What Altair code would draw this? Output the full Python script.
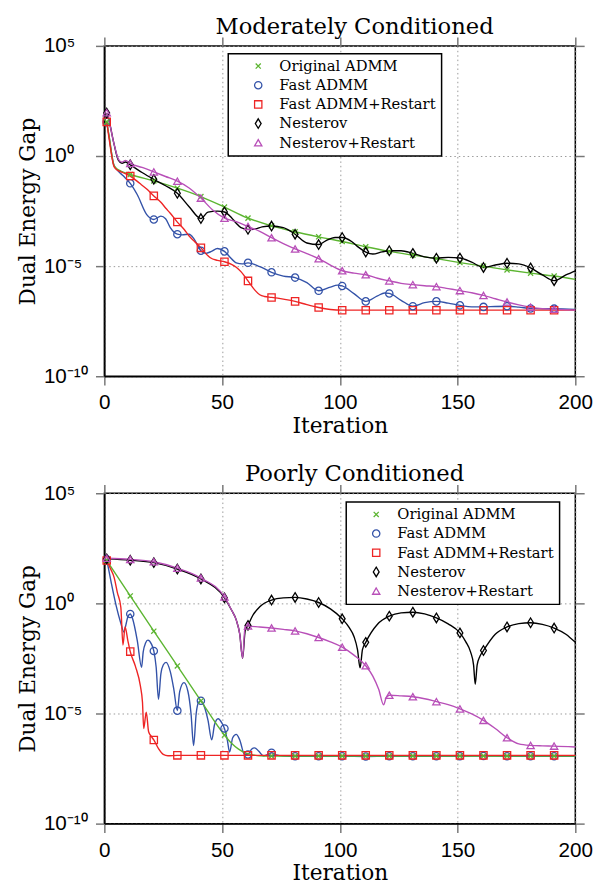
import altair as alt
import pandas as pd

SERIES = ["Original ADMM", "Fast ADMM", "Fast ADMM+Restart", "Nesterov", "Nesterov+Restart"]
COLORS = ["#5cb531", "#3352a8", "#ee2424", "#000000", "#b84fb8"]
SHAPES = ["M-0.7,-0.7L0.7,0.7M-0.7,0.7L0.7,-0.7", "circle", "square",
          "M0,-1.3L0.8,0L0,1.3L-0.8,0Z", "triangle-up"]
DRAW_ORDER = [1, 0, 2, 3, 4]
MARKER_ITERS = list(range(1, 192, 10))
X_TICKS = [0, 50, 100, 150, 200]
Y_TICKS = [1e-10, 1e-5, 1.0, 1e5]

# ---------- Moderately Conditioned (log10 of dual energy gap) ----------
TOP_GREEN_X = [1, 2, 4, 5, 7, 11, 21, 31, 41, 51, 61, 71, 81, 91, 101, 111, 121, 131, 141, 151, 161, 171, 181, 191, 200]
TOP_GREEN_Y = [1.55, 0.9, -0.4, -0.55, -0.68, -0.84, -1.13, -1.46, -1.84, -2.32, -2.82, -3.17, -3.44, -3.67, -3.88,
               -4.12, -4.33, -4.50, -4.66, -4.84, -5.00, -5.17, -5.32, -5.45, -5.60]

TOP_BLUE_X = [1, 2, 4, 5.5, 8, 11, 14, 18, 21, 24, 26, 28, 31, 33, 36, 38, 41, 43, 45.5, 48, 51, 53, 56, 58.5, 61, 66,
              71, 76, 81, 86, 91, 96, 99, 101, 106, 111, 116, 119, 121, 126, 131, 136, 141, 146, 151, 156, 161, 166,
              171, 176, 181, 186, 191, 200]
TOP_BLUE_Y = [1.55, 0.9, -0.4, -0.64, -0.9, -1.24, -1.76, -2.66, -2.88, -2.73, -2.85, -3.25, -3.55, -3.58, -3.55,
              -3.75, -4.30, -4.42, -4.33, -4.20, -4.33, -4.55, -4.85, -4.90, -4.85, -5.02, -5.28, -5.45, -5.52,
              -5.75, -6.12, -5.95, -5.86, -5.90, -6.25, -6.60, -6.35, -6.22, -6.24, -6.55, -6.82, -6.66, -6.60,
              -6.68, -6.78, -6.85, -6.85, -6.83, -6.82, -6.86, -6.92, -6.94, -6.93, -6.97]

TOP_RED_X = [1, 2, 4, 5, 8, 11, 15, 18, 21, 24, 26, 28, 31, 34, 36, 38, 41, 43, 45, 48, 51, 54, 56, 58, 61, 64, 66,
             68, 71, 76, 81, 86, 91, 96, 101, 111, 121, 131, 141, 151, 161, 171, 181, 191, 200]
TOP_RED_Y = [1.55, 0.8, -0.45, -0.6, -0.76, -0.91, -1.24, -1.5, -1.81, -2.1, -2.36, -2.6, -3.0, -3.35, -3.63, -3.85,
             -4.17, -4.42, -4.62, -4.74, -4.80, -4.92, -5.05, -5.25, -5.67, -6.1, -6.3, -6.38, -6.42, -6.50, -6.60,
             -6.75, -6.88, -6.97, -7.0, -7.0, -7.0, -7.0, -7.0, -7.0, -7.0, -7.0, -7.0, -7.0, -7.0]

TOP_BLACK_X = [1, 2, 4, 6, 7.5, 9, 11, 16, 21, 26, 31, 36, 41, 44, 48, 51, 54, 56, 58, 61, 64, 67, 71, 76, 81, 86, 91,
               94, 98, 101, 105, 108, 111, 114, 118, 121, 126, 131, 136, 141, 146, 151, 156, 161, 166, 171, 176,
               181, 186, 191, 196, 200]
TOP_BLACK_Y = [1.95, 1.6, 0.6, -0.2, -0.33, -0.27, -0.40, -0.75, -1.06, -1.35, -1.69, -2.3, -2.84, -2.55, -2.50,
               -2.54, -2.8, -3.05, -3.25, -3.33, -3.32, -3.22, -3.18, -3.25, -3.55, -3.95, -4.02, -3.85, -3.70,
               -3.70, -3.88, -4.15, -4.36, -4.45, -4.35, -4.30, -4.30, -4.42, -4.58, -4.64, -4.60, -4.63, -4.82,
               -5.06, -4.95, -4.87, -4.90, -5.08, -5.40, -5.66, -5.40, -5.21]

TOP_MAGENTA_X = [1, 2, 4, 6, 7.5, 9, 11, 16, 21, 26, 31, 36, 41, 46, 51, 56, 61, 66, 71, 76, 81, 86, 91, 96, 101, 106,
                 111, 116, 121, 126, 131, 136, 141, 146, 151, 156, 161, 166, 171, 176, 181, 186, 191, 200]
TOP_MAGENTA_Y = [1.97, 1.6, 0.6, -0.15, -0.28, -0.2, -0.34, -0.52, -0.72, -0.93, -1.14, -1.45, -1.91, -2.45, -2.82,
                 -2.98, -3.20, -3.42, -3.71, -3.98, -4.22, -4.43, -4.66, -4.95, -5.21, -5.32, -5.39, -5.55, -5.67,
                 -5.78, -5.84, -5.89, -5.93, -6.02, -6.11, -6.21, -6.33, -6.48, -6.63, -6.76, -6.86, -6.93, -6.96,
                 -7.0]

# ---------- Poorly Conditioned (log10 of dual energy gap) ----------
BOT_GREEN_X = [1, 11, 21, 31, 41, 51, 54, 57, 60, 63, 66, 71, 81, 91, 101, 111, 121, 131, 141, 151, 161, 171, 181,
               191, 200]
BOT_GREEN_Y = [1.95, 0.34, -1.26, -2.84, -4.43, -5.98, -6.35, -6.62, -6.80, -6.88, -6.92, -6.93, -6.93, -6.93,
               -6.93, -6.93, -6.93, -6.93, -6.93, -6.93, -6.93, -6.93, -6.93, -6.93, -6.93]

BOT_BLUE_X = [1, 3, 5, 7, 8.3, 9.3, 10, 11, 12, 14, 15.8, 16.5, 17.5, 18.5, 20, 21, 22, 23, 24, 25, 26.2, 28, 29.5,
              31, 32, 33.8, 35.5, 36.8, 37.9, 39, 40, 41, 42.5, 44, 45.6, 46.8, 48.3, 50, 51, 52.2, 53.2, 54.5, 56,
              57.5, 59.5, 61, 62.5, 63.8, 65.5, 67.5, 69.5, 71, 73, 76, 81, 91, 101, 111, 121, 131, 141, 151, 161,
              171, 181, 191, 200]
BOT_BLUE_Y = [2.0, 0.9, -0.1, -0.9, -1.3, -0.9, -0.6, -0.48, -0.7, -1.7, -2.9, -2.2, -1.8, -1.67, -1.85, -2.16,
              -2.9, -4.35, -3.2, -2.8, -2.68, -3.1, -3.9, -4.87, -4.0, -3.6, -4.0, -5.0, -6.45, -5.0, -4.5, -4.42,
              -4.7, -5.3, -6.2, -5.5, -5.24, -5.45, -5.68, -6.2, -6.75, -6.1, -5.95, -6.2, -6.85, -6.86, -6.62,
              -6.56, -6.7, -6.92, -6.85, -6.78, -6.88, -6.93, -6.94, -6.94, -6.94, -6.95, -6.94, -6.94, -6.94,
              -6.94, -6.93, -6.94, -6.94, -6.94, -6.94]

BOT_RED_X = [1, 2.5, 4.2, 5.5, 7, 7.9, 8.8, 10, 11, 13.2, 15.3, 16.2, 16.7, 17.8, 18.8, 20, 21, 23, 25, 27, 31, 41,
             51, 61, 71, 81, 91, 101, 111, 121, 131, 141, 151, 161, 171, 181, 191, 200]
BOT_RED_Y = [1.95, 1.6, 1.16, 0.5, -0.18, -1.89, -1.07, -1.7, -2.19, -2.86, -3.75, -4.5, -5.68, -4.94, -5.83, -6.05,
             -6.2, -6.6, -6.86, -6.92, -6.9, -6.9, -6.9, -6.9, -6.9, -6.9, -6.9, -6.9, -6.9, -6.9, -6.9, -6.9,
             -6.9, -6.9, -6.9, -6.9, -6.9, -6.9]

BOT_BLACK_X = [1, 11, 21, 31, 41, 51, 54, 56, 57.5, 58.7, 59.8, 61, 63, 66, 71, 76, 81, 86, 91, 96, 101, 104, 106,
               107.5, 108.6, 109.6, 111, 116, 121, 126, 131, 136, 141, 146, 151, 153.5, 155.5, 156.8, 157.5, 158.3,
               159.5, 161, 166, 171, 176, 181, 186, 191, 196, 200]
BOT_BLACK_Y = [2.02, 1.96, 1.85, 1.56, 1.11, 0.25, -0.3, -0.75, -1.4, -2.49, -1.25, -1.0, -0.55, -0.15, 0.15, 0.25,
               0.27, 0.2, 0.04, -0.25, -0.70, -1.1, -1.5, -2.1, -2.93, -2.1, -1.77, -0.95, -0.58, -0.43, -0.40,
               -0.48, -0.66, -0.93, -1.34, -1.75, -2.2, -2.8, -3.67, -2.8, -2.4, -2.14, -1.4, -1.07, -0.92, -0.88,
               -0.95, -1.12, -1.4, -1.77]

BOT_MAGENTA_X = [1, 11, 21, 31, 41, 51, 54, 56, 57.5, 58.7, 59.8, 61, 66, 71, 76, 81, 86, 91, 96, 101, 106, 111, 114,
                 116.5, 118.6, 119.6, 121, 126, 131, 136, 141, 146, 151, 156, 161, 166, 171, 176, 181, 186, 191, 200]
BOT_MAGENTA_Y = [2.05, 2.0, 1.89, 1.6, 1.15, 0.29, -0.3, -0.75, -1.4, -2.49, -1.0, -1.03, -1.07, -1.12, -1.18,
                 -1.25, -1.38, -1.55, -1.75, -1.99, -2.35, -2.83, -3.3, -3.9, -4.61, -4.3, -4.17, -4.2, -4.24, -4.33,
                 -4.46, -4.6, -4.79, -5.02, -5.31, -5.68, -6.10, -6.38, -6.45, -6.47, -6.48, -6.52]

TOP = [(TOP_GREEN_X, TOP_GREEN_Y), (TOP_BLUE_X, TOP_BLUE_Y), (TOP_RED_X, TOP_RED_Y),
       (TOP_BLACK_X, TOP_BLACK_Y), (TOP_MAGENTA_X, TOP_MAGENTA_Y)]
BOT = [(BOT_GREEN_X, BOT_GREEN_Y), (BOT_BLUE_X, BOT_BLUE_Y), (BOT_RED_X, BOT_RED_Y),
       (BOT_BLACK_X, BOT_BLACK_Y), (BOT_MAGENTA_X, BOT_MAGENTA_Y)]


def build(series_list):
    rows = []
    for i in DRAW_ORDER:
        xs, ys = series_list[i]
        for x, y in zip(xs, ys):
            rows.append({"series": SERIES[i], "iteration": x, "gap": 10.0 ** y})
    return pd.DataFrame(rows)


LABEL_EXPR = ("datum.value > 1000 ? '10\u2075' : datum.value > 0.01 ? '10\u2070' : "
              "datum.value > 1e-7 ? '10\u207b\u2075' : '10\u207b\u00b9\u2070'")


def panel(series_list, title, lx, ly):
    df = build(series_list)
    mdf = df[df["iteration"].isin(MARKER_ITERS)].reset_index(drop=True)
    xs = alt.Scale(domain=[0, 200], nice=False, zero=False)
    ys = alt.Scale(type="log", domain=[1e-10, 1e5], nice=False)
    cscale = alt.Scale(domain=SERIES, range=COLORS)
    legend = alt.Legend(orient="none", legendX=lx, legendY=ly, title=None)
    layers = []
    for i in DRAW_ORDER:
        layers.append(
            alt.Chart(df).transform_filter(alt.datum.series == SERIES[i])
            .mark_line(strokeWidth=1.4, interpolate="monotone").encode(
                x=alt.X("iteration:Q", scale=xs, axis=None),
                y=alt.Y("gap:Q", scale=ys, axis=None),
                color=alt.Color("series:N", scale=cscale, legend=legend),
            )
        )
    pts = alt.Chart(mdf).mark_point(filled=False, size=55, strokeWidth=1.3, opacity=1).encode(
        x=alt.X("iteration:Q", scale=xs,
                axis=alt.Axis(values=X_TICKS, title="Iteration", labelFlush=False, labelPadding=7,
                              titlePadding=3, grid=True)),
        y=alt.Y("gap:Q", scale=ys,
                axis=alt.Axis(values=Y_TICKS, title="Dual Energy Gap", labelExpr=LABEL_EXPR,
                              labelAlign="left", labelPadding=53, titlePadding=4, grid=True)),
        color=alt.Color("series:N", scale=cscale, legend=legend),
        shape=alt.Shape("series:N", scale=alt.Scale(domain=SERIES, range=SHAPES), legend=legend),
    )
    mirror = alt.Chart(mdf).mark_point(opacity=0).encode(
        x=alt.X("iteration:Q", scale=xs,
                axis=alt.Axis(orient="top", values=X_TICKS, labels=False, title=None, domain=False,
                              grid=False)),
        y=alt.Y("gap:Q", scale=ys,
                axis=alt.Axis(orient="right", values=Y_TICKS, labels=False, title=None, domain=False,
                              grid=False)),
    )
    return alt.layer(*layers, pts, mirror).resolve_axis(x="independent", y="independent").properties(
        width=479, height=336,
        title=alt.TitleParams(title, font="DejaVu Serif", fontSize=23, fontWeight="normal",
                              anchor="middle", frame="group", dx=15, offset=-4, color="black"),
    )


top = panel(TOP, "Moderately Conditioned", 126, 8)
bot = panel(BOT, "Poorly Conditioned", 246, 9)

chart = (
    alt.vconcat(top, bot, spacing=26)
    .resolve_legend(color="independent", shape="independent")
    .resolve_scale(color="independent", shape="independent")
    .properties(padding={"left": 8, "top": 0, "right": 0, "bottom": 0})
    .configure_view(stroke="black", strokeWidth=1.5)
    .configure_axis(labelFont="Liberation Sans", labelFontSize=21, labelColor="black",
                    titleFont="DejaVu Serif", titleFontSize=22, titleFontWeight="normal", titleColor="black",
                    tickColor="#777777", tickWidth=1.5, tickSize=9, domainColor="black", domainWidth=1.5,
                    gridColor="#999999", gridDash=[1.5, 3], gridWidth=1)
    .configure_legend(labelFont="DejaVu Serif", labelFontSize=15, labelColor="black",
                      strokeColor="black", strokeWidth=1.5, fillColor="white", padding=5,
                      symbolOffset=18, labelOffset=14, rowPadding=3.5,
                      symbolStrokeWidth=1.3, symbolSize=55, labelLimit=400)
)

chart.save("out.html", embed_options={"renderer": "svg", "actions": False})
